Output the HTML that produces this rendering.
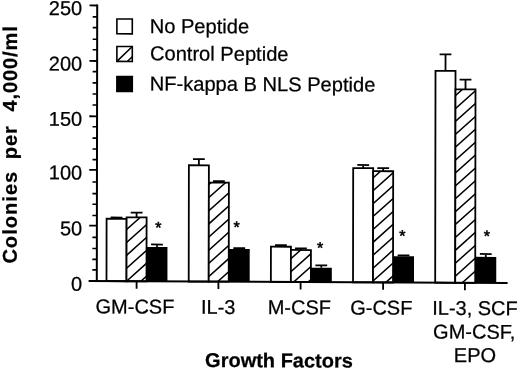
<!DOCTYPE html>
<html lang="en"><head><meta charset="utf-8"><title>Colonies per 4,000/ml by Growth Factors</title>
<style>html,body{margin:0;padding:0;background:#fff}body{width:520px;height:369px;overflow:hidden}svg{display:block}</style></head>
<body>
<svg width="520" height="369" viewBox="0 0 520 369">
<rect width="520" height="369" fill="#fff"/>
<defs>
<clipPath id="c0"><rect x="126.50" y="217.21" width="20.00" height="63.89"/></clipPath>
<clipPath id="c1"><rect x="208.73" y="182.03" width="20.00" height="99.07"/></clipPath>
<clipPath id="c2"><rect x="290.88" y="249.04" width="20.00" height="32.06"/></clipPath>
<clipPath id="c3"><rect x="373.02" y="169.85" width="20.00" height="111.25"/></clipPath>
<clipPath id="c4"><rect x="455.21" y="87.67" width="20.00" height="193.43"/></clipPath>
</defs>
<g transform="matrix(1 0.0047 -0.0015 1 0.4217 -0.4550)">
<g stroke="#000" stroke-width="1.8" fill="none" stroke-linecap="butt">
<path d="M116.50 218.71V217.41M110.60 217.41H122.40"/>
<rect x="106.50" y="218.71" width="20.00" height="62.39" fill="#fff"/>
<path d="M136.50 217.21V212.51M130.60 212.51H142.40"/>
<rect x="126.50" y="217.21" width="20.00" height="63.89" fill="#fff"/>
<path d="M124.50 205.46L148.50 183.86M124.50 218.36L148.50 196.76M124.50 231.26L148.50 209.66M124.50 244.16L148.50 222.56M124.50 257.06L148.50 235.46M124.50 269.96L148.50 248.36M124.50 282.86L148.50 261.26M124.50 295.76L148.50 274.16M124.50 308.66L148.50 287.06M124.50 321.56L148.50 299.96" stroke-width="1.5" clip-path="url(#c0)"/>
<path d="M156.92 246.72V244.22M151.02 244.22H162.82"/>
<rect x="146.52" y="246.72" width="20.90" height="34.38" fill="#000" stroke="none"/>
<path d="M136.61 281.1V288.50"/>
<path d="M198.71 164.82V158.62M192.81 158.62H204.61"/>
<rect x="188.71" y="164.82" width="20.00" height="116.28" fill="#fff"/>
<path d="M218.73 182.03V180.63M212.83 180.63H224.63"/>
<rect x="208.73" y="182.03" width="20.00" height="99.07" fill="#fff"/>
<path d="M206.73 159.42L230.73 137.82M206.73 172.57L230.73 150.97M206.73 185.72L230.73 164.12M206.73 198.87L230.73 177.27M206.73 212.02L230.73 190.42M206.73 225.17L230.73 203.57M206.73 238.32L230.73 216.72M206.73 251.47L230.73 229.87M206.73 264.62L230.73 243.02M206.73 277.77L230.73 256.17M206.73 290.92L230.73 269.32M206.73 304.07L230.73 282.47M206.73 317.22L230.73 295.62" stroke-width="1.5" clip-path="url(#c1)"/>
<path d="M239.18 248.33V247.43M233.28 247.43H245.08"/>
<rect x="228.78" y="248.33" width="20.90" height="32.77" fill="#000" stroke="none"/>
<path d="M218.41 281.1V288.50"/>
<path d="M280.87 245.83V244.33M274.97 244.33H286.77"/>
<rect x="270.87" y="245.83" width="20.00" height="35.27" fill="#fff"/>
<path d="M300.88 249.04V247.44M294.98 247.44H306.78"/>
<rect x="290.88" y="249.04" width="20.00" height="32.06" fill="#fff"/>
<path d="M288.88 233.79L312.88 212.19M288.88 246.69L312.88 225.09M288.88 259.59L312.88 237.99M288.88 272.49L312.88 250.89M288.88 285.39L312.88 263.79M288.88 298.29L312.88 276.69M288.88 311.19L312.88 289.59M288.88 324.09L312.88 302.49" stroke-width="1.5" clip-path="url(#c2)"/>
<path d="M321.29 266.75V264.35M315.39 264.35H327.19"/>
<rect x="310.89" y="266.75" width="20.90" height="14.35" fill="#000" stroke="none"/>
<path d="M300.61 281.1V288.50"/>
<path d="M363.02 166.85V163.75M357.12 163.75H368.92"/>
<rect x="353.02" y="166.85" width="20.00" height="114.25" fill="#fff"/>
<path d="M383.02 169.85V166.75M377.12 166.75H388.92"/>
<rect x="373.02" y="169.85" width="20.00" height="111.25" fill="#fff"/>
<path d="M371.02 152.50L395.02 130.90M371.02 165.40L395.02 143.80M371.02 178.30L395.02 156.70M371.02 191.20L395.02 169.60M371.02 204.10L395.02 182.50M371.02 217.00L395.02 195.40M371.02 229.90L395.02 208.30M371.02 242.80L395.02 221.20M371.02 255.70L395.02 234.10M371.02 268.60L395.02 247.00M371.02 281.50L395.02 259.90M371.02 294.40L395.02 272.80M371.02 307.30L395.02 285.70M371.02 320.20L395.02 298.60" stroke-width="1.5" clip-path="url(#c3)"/>
<path d="M403.48 254.86V253.96M397.58 253.96H409.38"/>
<rect x="393.08" y="254.86" width="20.90" height="26.24" fill="#000" stroke="none"/>
<path d="M383.11 281.1V288.50"/>
<path d="M445.19 69.26V52.76M439.29 52.76H451.09"/>
<rect x="435.19" y="69.26" width="20.00" height="211.84" fill="#fff"/>
<path d="M465.21 87.67V77.87M459.31 77.87H471.11"/>
<rect x="455.21" y="87.67" width="20.00" height="193.43" fill="#fff"/>
<path d="M453.21 69.91L477.21 48.31M453.21 82.81L477.21 61.21M453.21 95.71L477.21 74.11M453.21 108.61L477.21 87.01M453.21 121.51L477.21 99.91M453.21 134.41L477.21 112.81M453.21 147.31L477.21 125.71M453.21 160.21L477.21 138.61M453.21 173.11L477.21 151.51M453.21 186.01L477.21 164.41M453.21 198.91L477.21 177.31M453.21 211.81L477.21 190.21M453.21 224.71L477.21 203.11M453.21 237.61L477.21 216.01M453.21 250.51L477.21 228.91M453.21 263.41L477.21 241.81M453.21 276.31L477.21 254.71M453.21 289.21L477.21 267.61M453.21 302.11L477.21 280.51M453.21 315.01L477.21 293.41" stroke-width="1.5" clip-path="url(#c4)"/>
<path d="M485.73 255.07V252.17M479.83 252.17H491.63"/>
<rect x="475.33" y="255.07" width="20.90" height="26.03" fill="#000" stroke="none"/>
<path d="M464.91 281.1V288.50"/>
<path d="M96.8 4.6V281.1M88.6 281.1H507.6" stroke-width="2"/>
<path d="M92.3 269.90H96.8" stroke-width="1.6"/>
<path d="M92.3 259.40H96.8" stroke-width="1.6"/>
<path d="M92.3 248.50H96.8" stroke-width="1.6"/>
<path d="M92.3 237.40H96.8" stroke-width="1.6"/>
<path d="M89.1 225.70H96.8"/>
<path d="M92.3 215.50H96.8" stroke-width="1.6"/>
<path d="M92.3 204.20H96.8" stroke-width="1.6"/>
<path d="M92.3 193.60H96.8" stroke-width="1.6"/>
<path d="M92.3 182.00H96.8" stroke-width="1.6"/>
<path d="M89.1 169.90H96.8"/>
<path d="M92.3 159.60H96.8" stroke-width="1.6"/>
<path d="M92.3 149.00H96.8" stroke-width="1.6"/>
<path d="M92.3 138.10H96.8" stroke-width="1.6"/>
<path d="M92.3 126.70H96.8" stroke-width="1.6"/>
<path d="M89.1 116.30H96.8"/>
<path d="M92.3 105.00H96.8" stroke-width="1.6"/>
<path d="M92.3 94.00H96.8" stroke-width="1.6"/>
<path d="M92.3 82.90H96.8" stroke-width="1.6"/>
<path d="M92.3 71.60H96.8" stroke-width="1.6"/>
<path d="M89.1 61.00H96.8"/>
<path d="M92.3 49.70H96.8" stroke-width="1.6"/>
<path d="M92.3 39.20H96.8" stroke-width="1.6"/>
<path d="M92.3 27.60H96.8" stroke-width="1.6"/>
<path d="M92.3 16.90H96.8" stroke-width="1.6"/>
<path d="M89.1 5.50H96.8"/>
</g>
<g stroke="#000" stroke-width="1.6">
<rect x="116.51" y="18.91" width="15.4" height="14.8" fill="#fff"/>
<rect x="116.55" y="46.41" width="15.4" height="14.9" fill="#fff"/>
<path d="M116.55 61.31L131.95 46.41M126.95 61.31L131.95 56.51" fill="none" stroke-width="1.5"/>
<rect x="116.59" y="76.41" width="15.4" height="14.9" fill="#000"/>
</g>
<g font-family="'Liberation Sans', Arial, Helvetica, sans-serif" font-size="20" fill="#000" stroke="#000" stroke-width="0.25">
<text x="149.33" y="32.65" font-size="20.1">No Peptide</text>
<text x="149.67" y="60.05" font-size="20.1">Control Peptide</text>
<text x="149.41" y="90.25" font-size="20.1">NF-kappa B NLS Peptide</text>
<text x="82.21" y="290.77" text-anchor="end">0</text>
<text x="82.13" y="235.37" text-anchor="end">50</text>
<text x="82.05" y="179.57" text-anchor="end">100</text>
<text x="81.97" y="125.97" text-anchor="end">150</text>
<text x="81.88" y="70.67" text-anchor="end">200</text>
<text x="81.80" y="15.17" text-anchor="end">250</text>
<text x="135.05" y="313.32" text-anchor="middle">GM-CSF</text>
<text x="218.25" y="313.33" text-anchor="middle">IL-3</text>
<text x="299.35" y="313.30" text-anchor="middle">M-CSF</text>
<text x="381.35" y="313.26" text-anchor="middle">G-CSF</text>
<text x="475.05" y="313.22" text-anchor="middle">IL-3, SCF</text>
<text x="474.29" y="336.83" text-anchor="middle">GM-CSF,</text>
<text x="475.12" y="360.22" text-anchor="middle">EPO</text>
<text x="158.23" y="232.81" text-anchor="middle" font-size="16" stroke-width="0.55">*</text>
<text x="236.53" y="231.84" text-anchor="middle" font-size="16" stroke-width="0.55">*</text>
<text x="319.96" y="252.15" text-anchor="middle" font-size="16" stroke-width="0.55">*</text>
<text x="402.44" y="239.96" text-anchor="middle" font-size="16" stroke-width="0.55">*</text>
<text x="486.94" y="239.77" text-anchor="middle" font-size="16" stroke-width="0.55">*</text>
<text x="279.13" y="366.44" text-anchor="middle" font-weight="bold">Growth Factors</text>
<g transform="translate(16.60 0) rotate(-90)" font-weight="bold" letter-spacing="0.92"><text x="-264" y="0" letter-spacing="1.05">Colonies</text><text x="-159.6" y="0">per</text><text x="-112" y="0">4,000/ml</text></g>
</g>
</g>
</svg>
</body></html>
